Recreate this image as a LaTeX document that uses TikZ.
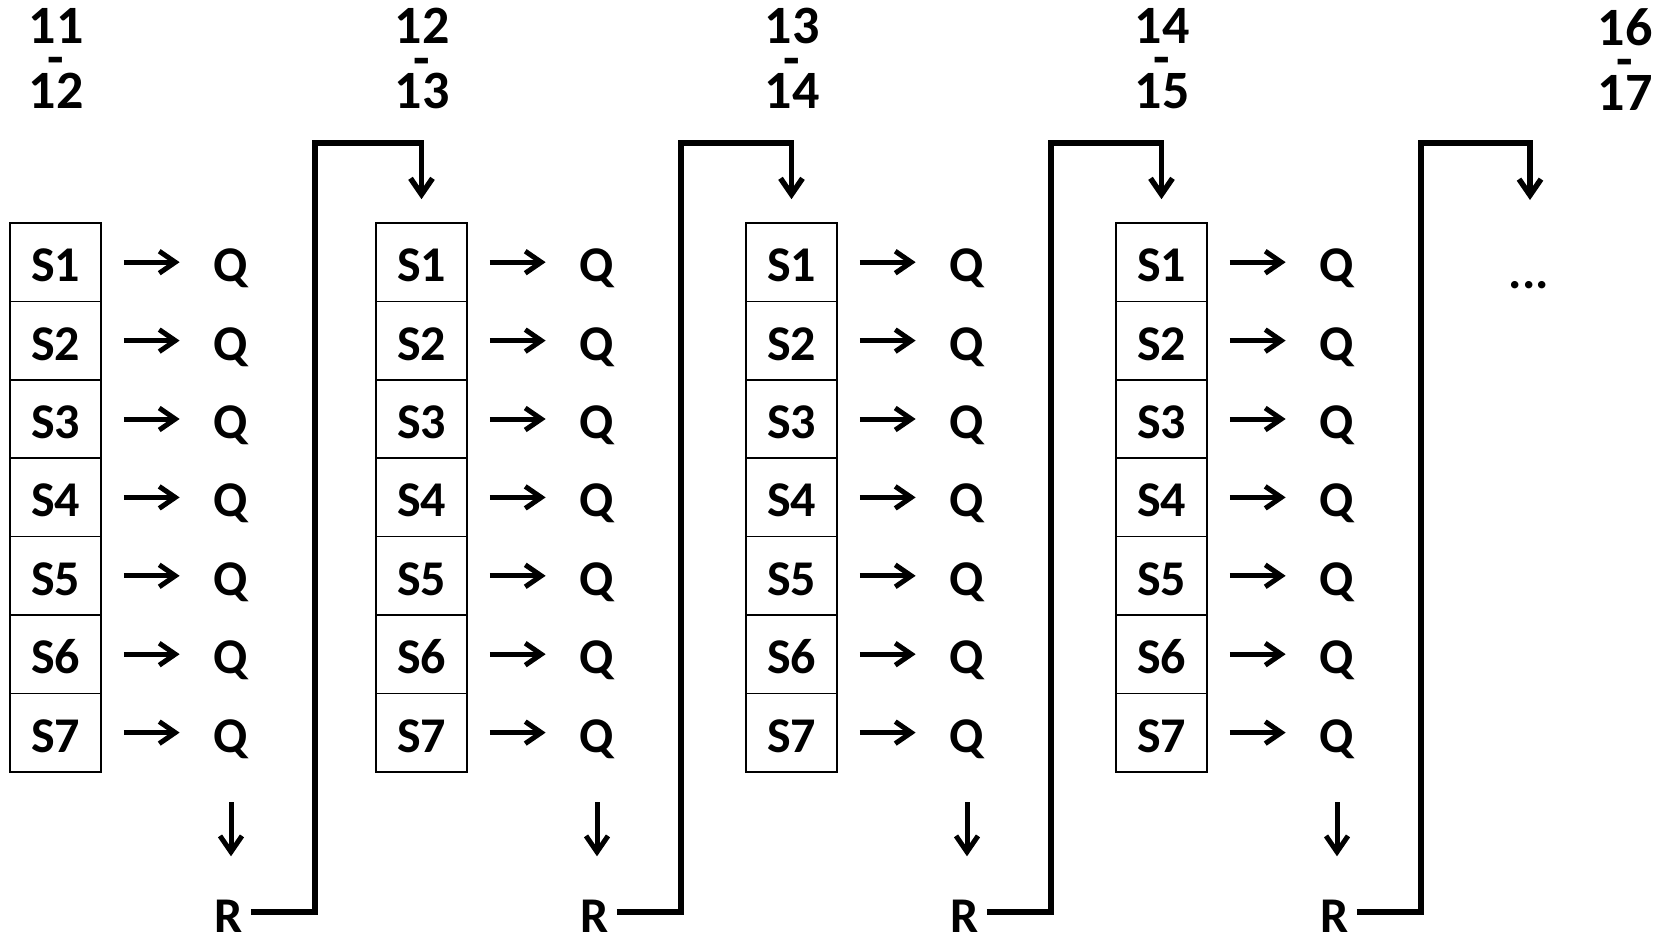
\documentclass[tikz,border=0pt]{standalone}
\usepackage{fontspec}
\setmainfont{Carlito}
\usetikzlibrary{arrows.meta}
\lineskiplimit=-100pt
\begin{document}
\begin{tikzpicture}[x=1pt,y=-1pt,
  lbl/.style={inner sep=0pt, font=\bfseries\fontsize{50}{60}\selectfont, text height=39pt, text depth=0pt},
  sbox/.style={lbl, draw, line width=1.6pt, minimum width=91pt, minimum height=78.4pt},
  hdr/.style={inner sep=0pt, anchor=north, align=center, font=\bfseries\fontsize{54}{32.5}\selectfont},
  arr/.style={line width=5pt, -{Straight Barb[length=16pt,width=22pt]}},
  conn/.style={line width=5.5pt, -{Straight Barb[length=16pt,width=22pt]}}
]
\useasboundingbox (0,0) rectangle (1658,940);
\coordinate (nx) at (1530,223);
\node[lbl] (dots) at (1529,268.5) {...};
\node[hdr] (h5) at (1625,8) {16\\-\\17};
\foreach \k/\L/\a/\b/\n in {1/10/11/12/s21, 2/376/12/13/s31, 3/746/13/14/s41, 4/1116/14/15/nx} {
  \node[hdr] (h\k) at (\L+46,8) {\a\\-\\\b};
  \foreach \i in {1,...,7} {
    \node[sbox] (s\k\i) at (\L+45.5, 223+78.4*\i-39.2) {S\i};
    \node[lbl] (q\k\i) at (\L+221, 223+78.4*\i-39.2) {Q};
    \draw[arr, shorten <=22pt, shorten >=34pt] (s\k\i) -- (q\k\i);
  }
  \node[lbl] (r\k) at (\L+218.5, 913) {R};
  \draw[arr, shorten <=50pt, shorten >=37pt] (q\k7.south) -- (q\k7.south |- r\k.north);
  \coordinate (c\k) at (\L+305,143);
}
\draw[conn, shorten >=23pt] ([xshift=8pt,yshift=1pt]r1.east) -| (c1) -| (s21.north);
\draw[conn, shorten >=23pt] ([xshift=8pt,yshift=1pt]r2.east) -| (c2) -| (s31.north);
\draw[conn, shorten >=23pt] ([xshift=8pt,yshift=1pt]r3.east) -| (c3) -| (s41.north);
\draw[conn, shorten >=23pt] ([xshift=8pt,yshift=1pt]r4.east) -| (c4) -| (nx);
\end{tikzpicture}
\end{document}
